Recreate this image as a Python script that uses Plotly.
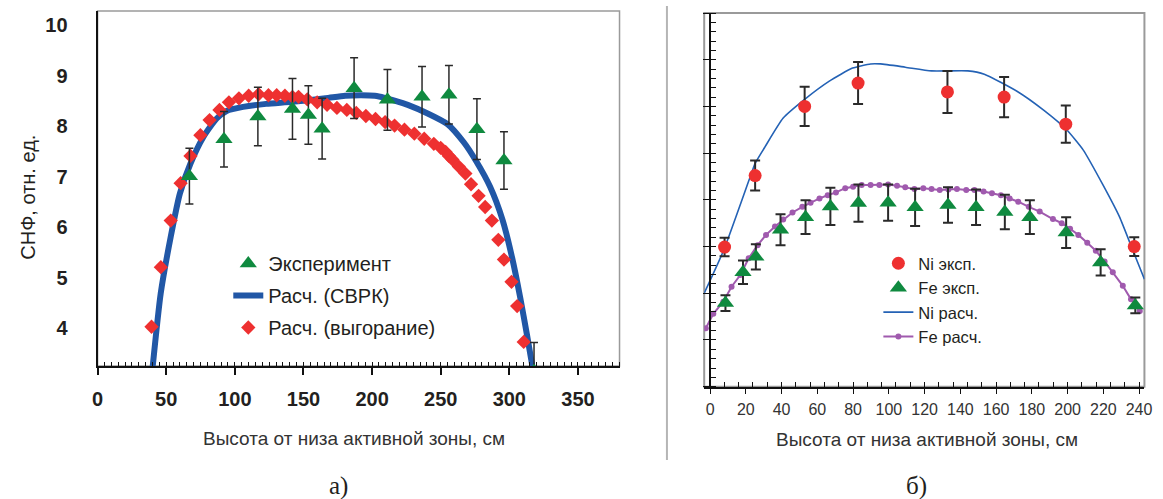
import plotly.graph_objects as go

# ---------------- Left panel (а) data ----------------
exp_x = [66.9, 92.1, 116.8, 142.0, 153.6, 163.6, 186.9, 211.2, 236.4, 256.0, 276.4, 296.1, 318.0]
exp_y = [7.01, 7.74, 8.19, 8.34, 8.22, 7.95, 8.75, 8.52, 8.58, 8.62, 7.94, 7.32, 3.15]
exp_err = [0.55, 0.55, 0.58, 0.60, 0.58, 0.60, 0.60, 0.60, 0.60, 0.58, 0.60, 0.57, 0.57]

svrk_x = [40.0, 46.0, 53.3, 60.0, 67.7, 77.2, 86.8, 94.0, 106.0, 122.8, 141.9, 166.0, 180.4,
          192.0, 202.0, 209.2, 217.0, 226.0, 240.5, 254.9, 266.8, 276.0, 286.0, 295.0, 302.0,
          308.0, 313.0, 317.0]
svrk_y = [3.20, 4.69, 5.81, 6.67, 7.26, 7.79, 8.15, 8.30, 8.38, 8.44, 8.48, 8.55, 8.60,
          8.61, 8.60, 8.56, 8.50, 8.42, 8.25, 8.04, 7.68, 7.30, 6.80, 6.15, 5.40,
          4.60, 3.85, 3.22]

burn_x = [39.3, 46.1, 53.3, 60.5, 67.7, 74.9, 81.6, 88.8, 95.7, 103.0, 110.1, 117.3, 124.5,
          130.5, 136.5, 142.0, 146.4, 152.8, 160.0, 167.2, 174.4, 181.6, 188.5, 195.5, 202.5,
          209.5, 216.4, 223.6, 230.8, 238.0, 245.0, 250.0, 253.6, 256.0, 258.5, 263.2, 268.0,
          272.1, 277.6, 282.4, 287.3, 292.0, 296.1, 301.6, 305.7, 310.5]
burn_y = [4.03, 5.21, 6.13, 6.87, 7.41, 7.82, 8.12, 8.32, 8.47, 8.55, 8.60, 8.63, 8.61,
          8.61, 8.60, 8.58, 8.58, 8.53, 8.47, 8.42, 8.36, 8.32, 8.26, 8.20, 8.14,
          8.08, 8.01, 7.93, 7.85, 7.75, 7.65, 7.57, 7.49, 7.41, 7.34, 7.20, 7.06,
          6.85, 6.62, 6.40, 6.13, 5.75, 5.36, 4.92, 4.44, 3.73]

# ---------------- Right panel (б) data ----------------
ni_x = [8.1, 25.2, 52.9, 82.8, 132.8, 164.5, 199.0, 237.3]
ni_y = [2.99, 4.52, 6.00, 6.50, 6.31, 6.20, 5.62, 3.00]
ni_err = [0.20, 0.32, 0.42, 0.45, 0.45, 0.43, 0.40, 0.20]

fe_x = [8.6, 18.4, 25.6, 39.4, 53.4, 67.3, 83.0, 99.6, 114.7, 133.1, 148.8, 164.9, 178.9,
        199.2, 218.5, 237.9]
fe_y = [1.79, 2.45, 2.78, 3.36, 3.63, 3.86, 3.93, 3.94, 3.84, 3.89, 3.84, 3.74, 3.63,
        3.30, 2.66, 1.74]
fe_err = [0.17, 0.25, 0.27, 0.33, 0.36, 0.40, 0.40, 0.39, 0.40, 0.38, 0.38, 0.37, 0.36,
          0.33, 0.28, 0.17]

ni_calc_x = [-3.3, 7.7, 22.5, 25.2, 30.8, 40.9, 52.9, 66.7, 79.7, 89.8, 95.3, 109.2, 123.9,
             144.2, 153.4, 171.9, 186.6, 199.5, 208.7, 219.8, 229.0, 236.4, 243.0]
ni_calc_y = [2.00, 2.93, 4.50, 4.78, 5.14, 5.75, 6.15, 6.54, 6.82, 6.91, 6.91, 6.84, 6.76,
             6.76, 6.69, 6.32, 5.92, 5.50, 5.07, 4.32, 3.64, 2.93, 2.30]

fe_calc_x = [-2.4, 1.8, 7.4, 12.0, 16.9, 21.6, 26.6, 31.3, 36.3, 40.9, 46.1, 51.6, 56.2,
             61.2, 65.8, 70.4, 75.6, 80.0, 84.8, 89.8, 94.7, 99.6, 104.6, 109.2, 114.3,
             119.3, 123.9, 128.5, 133.3, 138.1, 143.3, 147.9, 153.0, 157.7, 162.7, 167.6,
             172.4, 178.3, 184.4, 191.8, 196.7, 201.4, 206.0, 211.0, 215.8, 220.7, 225.3,
             230.9, 235.5, 240.4]
fe_calc_y = [1.25, 1.56, 1.82, 2.14, 2.39, 2.75, 3.03, 3.25, 3.43, 3.58, 3.73, 3.85, 3.94,
             4.03, 4.10, 4.16, 4.25, 4.28, 4.32, 4.32, 4.32, 4.33, 4.30, 4.27, 4.23,
             4.25, 4.23, 4.21, 4.22, 4.23, 4.21, 4.21, 4.18, 4.14, 4.10, 4.03,
             3.96, 3.85, 3.75, 3.59, 3.50, 3.38, 3.25, 3.08, 2.91, 2.68, 2.45,
             2.16, 1.87, 1.62]

left_xticks = [0, 50, 100, 150, 200, 250, 300, 350]
left_yticks = [4, 5, 6, 7, 8, 9, 10]
right_xticks = [0, 20, 40, 60, 80, 100, 120, 140, 160, 180, 200, 220, 240]

# ---------------- styling ----------------
W, H = 1163, 499
SANS = "Liberation Sans, Arial, sans-serif"
SERIF = "Liberation Serif, Times New Roman, serif"
GREEN = "#0f8a3f"
RED = "#ee3030"
BLUE_L = "#2157a6"
BLUE_R = "#2462b5"
PURPLE = "#a05aae"
ERR = "#2a2a2a"


def px_x(p):
    return p / W


def px_y(p):
    return 1 - p / H


L_X0, L_X1, L_YT, L_YB = 92.7, 621.0, 11.0, 366.0
R_X0, R_X1, R_YT, R_YB = 706.7, 1152.3, 13.0, 386.7
R_RANGE = [-3.3, 243.0]
r_yaxis_pos = px_x(R_X0) + (0 - R_RANGE[0]) / (R_RANGE[1] - R_RANGE[0]) * (px_x(R_X1) - px_x(R_X0))

fig = go.Figure()

# left panel traces
fig.add_trace(go.Scatter(
    x=svrk_x, y=svrk_y, mode="lines", name="Расч. (СВРК)",
    line=dict(color=BLUE_L, width=6, shape="spline", smoothing=0.6),
    xaxis="x", yaxis="y", legend="legend", legendgroup="b", legendrank=2))
fig.add_trace(go.Scatter(
    x=burn_x, y=burn_y, mode="markers", name="Расч. (выгорание)",
    marker=dict(symbol="diamond", color=RED, size=11),
    xaxis="x", yaxis="y", legend="legend", legendgroup="c", legendrank=3))
fig.add_trace(go.Scatter(
    x=exp_x, y=exp_y, mode="markers", name="Эксперимент",
    marker=dict(symbol="triangle-up", color=GREEN, size=15),
    error_y=dict(type="data", array=exp_err, color=ERR, thickness=1.5, width=4),
    xaxis="x", yaxis="y", legend="legend", legendgroup="a", legendrank=1))

# right panel traces
fig.add_trace(go.Scatter(
    x=ni_calc_x, y=ni_calc_y, mode="lines", name="Ni расч.",
    line=dict(color=BLUE_R, width=1.6, shape="spline", smoothing=0.5),
    xaxis="x2", yaxis="y2", legend="legend2", legendrank=3))
fig.add_trace(go.Scatter(
    x=fe_calc_x, y=fe_calc_y, mode="lines+markers", name="Fe расч.",
    line=dict(color=PURPLE, width=2),
    marker=dict(color=PURPLE, size=6),
    xaxis="x2", yaxis="y2", legend="legend2", legendrank=4))
fig.add_trace(go.Scatter(
    x=ni_x, y=ni_y, mode="markers", name="Ni эксп.",
    marker=dict(symbol="circle", color=RED, size=13),
    error_y=dict(type="data", array=ni_err, color=ERR, thickness=2, width=5),
    xaxis="x2", yaxis="y2", legend="legend2", legendrank=1))
fig.add_trace(go.Scatter(
    x=fe_x, y=fe_y, mode="markers", name="Fe эксп.",
    marker=dict(symbol="triangle-up", color=GREEN, size=15),
    error_y=dict(type="data", array=fe_err, color=ERR, thickness=2, width=5),
    xaxis="x2", yaxis="y2", legend="legend2", legendrank=2))

fig.update_layout(
    width=W, height=H, autosize=False,
    margin=dict(l=0, r=0, t=0, b=0),
    paper_bgcolor="white", plot_bgcolor="white",
    font=dict(family=SANS, color="#231f20"),
    xaxis=dict(
        domain=[px_x(L_X0), px_x(L_X1)], range=[0, 380.3], anchor="y",
        tickmode="array", tickvals=left_xticks,
        showline=True, linecolor="#111", linewidth=2,
        ticks="outside", ticklen=7, tickwidth=1.5, tickcolor="#111",
        minor=dict(ticks="inside", dtick=5, tick0=0, ticklen=4, tickwidth=1, tickcolor="#111"),
        tickfont=dict(family=SANS, size=20, color="#231f20", weight="bold"),
        ticklabelstandoff=7,
        showgrid=False, zeroline=False),
    yaxis=dict(
        domain=[px_y(L_YB), px_y(L_YT)], range=[3.254, 10.277], anchor="x",
        tickmode="array", tickvals=left_yticks,
        showline=True, linecolor="#111", linewidth=2,
        ticks="", tickfont=dict(family=SANS, size=20, color="#231f20", weight="bold"),
        ticklabelstandoff=24,
        showgrid=False, zeroline=False),
    xaxis2=dict(
        domain=[px_x(R_X0), px_x(R_X1)], range=R_RANGE, anchor="y2",
        tickmode="array", tickvals=right_xticks,
        showline=True, linecolor="#111", linewidth=1.5,
        ticks="outside", ticklen=6, tickwidth=1.2, tickcolor="#111",
        minor=dict(ticks="inside", dtick=8, tick0=0, ticklen=5, tickwidth=1, tickcolor="#111"),
        tickfont=dict(family=SANS, size=16, color="#333"),
        ticklabelstandoff=1,
        showgrid=False, zeroline=False),
    yaxis2=dict(
        domain=[px_y(R_YB), px_y(R_YT)], range=[0, 8], anchor="free", position=r_yaxis_pos,
        dtick=1, tick0=0, showticklabels=False,
        showline=True, linecolor="#111", linewidth=1.5,
        ticks="outside", ticklen=6, tickwidth=1.2, tickcolor="#111",
        minor=dict(ticks="inside", dtick=0.2, ticklen=5, tickwidth=1, tickcolor="#111"),
        showgrid=False, zeroline=False),
    legend=dict(
        x=px_x(269 - 44), y=px_y(244), xanchor="left", yanchor="top",
        font=dict(family=SANS, size=20, color="#231f20"),
        bgcolor="rgba(0,0,0,0)", tracegroupgap=3, traceorder="grouped"),
    legend2=dict(
        x=px_x(927 - 44), y=px_y(246), xanchor="left", yanchor="top",
        font=dict(family=SANS, size=16.5, color="#231f20"),
        bgcolor="rgba(0,0,0,0)", tracegroupgap=0, traceorder="normal"),
    showlegend=True,
)

# frames (top/right borders in grey)
fig.add_shape(type="rect", xref="x domain", yref="y domain", x0=0, x1=1, y0=0, y1=1,
              line=dict(color="#9a9a9a", width=1.5), layer="below")
fig.add_shape(type="rect", xref="x2 domain", yref="y2 domain", x0=0, x1=1, y0=0, y1=1,
              line=dict(color="#9a9a9a", width=2), layer="below")
# separator between panels
fig.add_shape(type="line", xref="paper", yref="paper", x0=px_x(669), x1=px_x(669),
              y0=px_y(6), y1=px_y(460), line=dict(color="#b5b5b5", width=2))


def note(text, x, y, size, family=SANS, color="#231f20", angle=0):
    return dict(text=text, x=px_x(x), y=px_y(y), xref="paper", yref="paper",
                xanchor="center", yanchor="middle", showarrow=False, textangle=angle,
                font=dict(family=family, size=size, color=color))


ann = [
    note("Высота от низа активной зоны, см", 352, 438, 19, color="#333"),
    note("Высота от низа активной зоны, см", 932, 439, 19, color="#333"),
    note("СНФ, отн. ед.", 22, 197, 20, angle=-90),
    note("а)", 337, 486, 25, family=SERIF),
    note("б)", 922, 486, 25, family=SERIF),
]
fig.update_layout(annotations=ann)

fig.write_html("out.html")
